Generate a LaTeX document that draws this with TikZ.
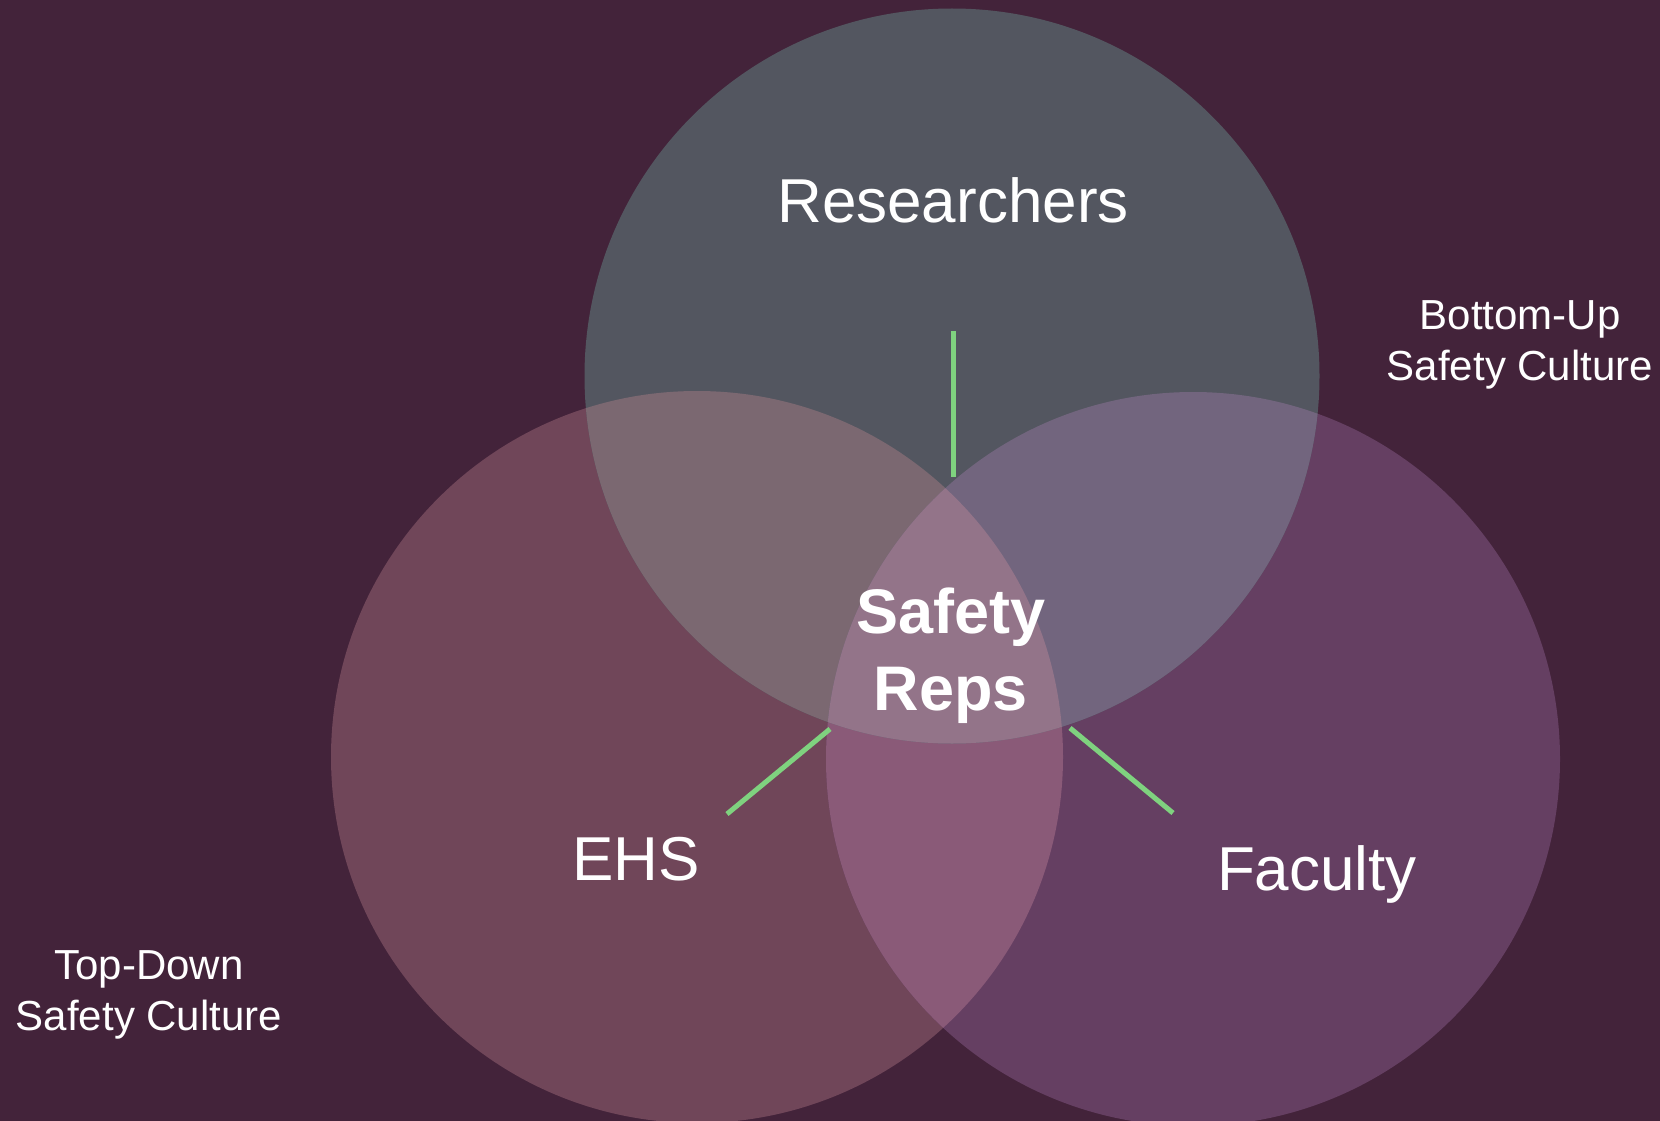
\documentclass[tikz,border=0pt]{standalone}
\usepackage{fontspec}
\setmainfont{Liberation Sans}
\definecolor{bgc}{HTML}{43233A}
\definecolor{topc}{HTML}{535660}
\definecolor{leftc}{HTML}{704659}
\definecolor{rightc}{HTML}{653F62}
\definecolor{tlc}{HTML}{7B6871}
\definecolor{trc}{HTML}{72657E}
\definecolor{lrc}{HTML}{8A5A78}
\definecolor{allc}{HTML}{937489}
\definecolor{linkc}{HTML}{7FD27F}
\tikzset{
  biglabel/.style={text=white, inner sep=0pt, font=\fontsize{62}{74}\selectfont},
  centerlabel/.style={text=white, inner sep=0pt, align=center, font=\fontsize{63}{77}\selectfont\bfseries},
  sidelabel/.style={text=white, inner sep=0pt, align=center, font=\fontsize{42}{51}\selectfont},
  link/.style={draw=linkc, line width=5pt}
}
\begin{document}
\begin{tikzpicture}[x=1pt,y=-1pt]
\useasboundingbox (0,0) rectangle (1660,1121);
\fill[bgc] (0,0) rectangle (1660,1121);
\begin{scope}
\clip (0,0) rectangle (1660,1121);
% solid circles
\fill[leftc] (697,757) circle[radius=366];
\fill[rightc] (1193,759) circle[radius=367];
\fill[topc] (952,376) circle[radius=367.5];
% pairwise overlaps
\begin{scope}
  \clip (697,757) circle[radius=366];
  \fill[lrc] (1193,759) circle[radius=367];
\end{scope}
\begin{scope}
  \clip (952,376) circle[radius=367.5];
  \fill[tlc] (697,757) circle[radius=366];
\end{scope}
\begin{scope}
  \clip (952,376) circle[radius=367.5];
  \fill[trc] (1193,759) circle[radius=367];
\end{scope}
\begin{scope}
  \clip (952,376) circle[radius=367.5];
  \clip (697,757) circle[radius=366];
  \fill[allc] (1193,759) circle[radius=367];
\end{scope}
\end{scope}
% labels
\node[biglabel, anchor=base] (res) at (953,222) {Researchers};
\node[biglabel, anchor=base] (ehs) at (636,880) {EHS};
\node[biglabel, anchor=base] (fac) at (1317,890) {Faculty};
\node[centerlabel, anchor=base] (reps) at (951,710) {Safety\\Reps};
\node[sidelabel, anchor=base] (bu) at (1520,380) {Bottom-Up\\Safety Culture};
\node[sidelabel, anchor=base] (td) at (149,1030) {Top-Down\\Safety Culture};
% connectors
\coordinate (resA) at (953,331);
\coordinate (resB) at (953,477);
\coordinate (ehsA) at (727,814);
\coordinate (ehsB) at (830,729);
\coordinate (facA) at (1173,813);
\coordinate (facB) at (1070,728);
\draw[link] (resA) -- (resB);
\draw[link] (ehsA) -- (ehsB);
\draw[link] (facA) -- (facB);
\end{tikzpicture}
\end{document}
